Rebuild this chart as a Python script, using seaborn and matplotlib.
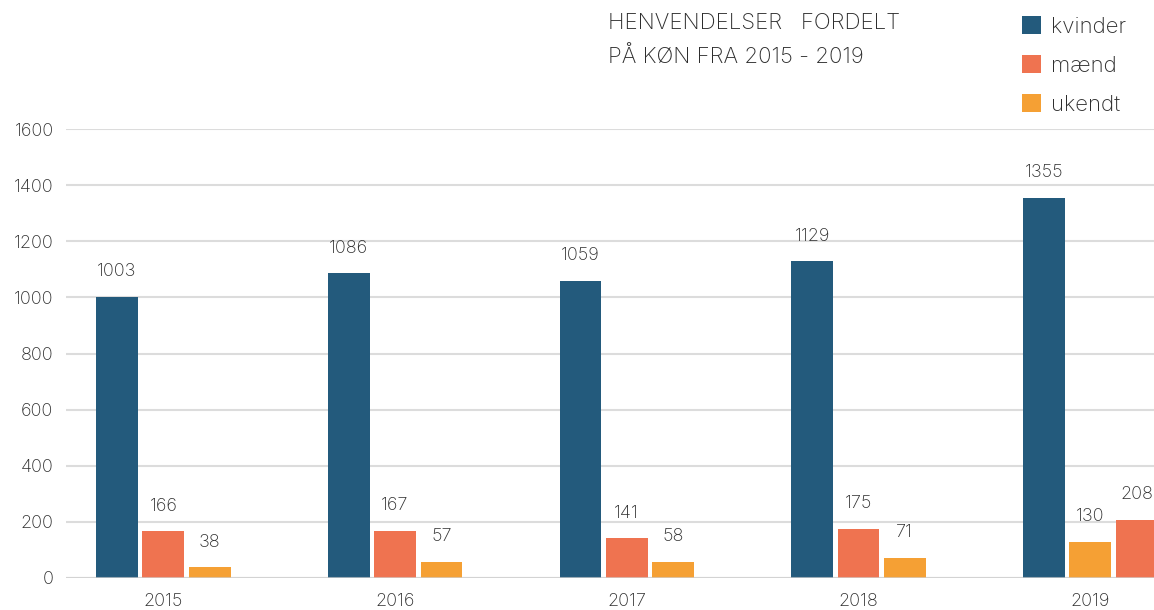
import pandas as pd
import numpy as np
import matplotlib.pyplot as plt
import seaborn as sns
from matplotlib.patches import Patch

years = ["2015", "2016", "2017", "2018", "2019"]
kvinder = [1003, 1086, 1059, 1129, 1355]
maend = [166, 167, 141, 175, 208]
ukendt = [38, 57, 58, 71, 130]

series_names = ["kvinder", "mænd", "ukendt"]
colors = {"kvinder": "#235a7c", "mænd": "#ef7350", "ukendt": "#f5a034"}
title = "HENVENDELSER   FORDELT\nPÅ KØN FRA 2015 - 2019"

# long table; in 2019 the last two bars swap places, as in the original
rows = []
values = {"kvinder": kvinder, "mænd": maend, "ukendt": ukendt}
for i, yr in enumerate(years):
    order = ["kvinder", "mænd", "ukendt"] if yr != "2019" else ["kvinder", "ukendt", "mænd"]
    for slot, name in enumerate(order):
        rows.append({"year": yr, "slot": slot, "series": name, "value": values[name][i]})
df = pd.DataFrame(rows)

sns.set_theme(style="white")
plt.rcParams["font.family"] = ["Inter", "DejaVu Sans"]
plt.rcParams["font.weight"] = "light"
text_col = "#2e2e2e"

fig = plt.figure(figsize=(11.54, 6.1), dpi=100)
ax = fig.add_axes([66 / 1154, 32 / 610, 1116.8 / 1154, 449 / 610])

sns.barplot(data=df, x="year", y="value", hue="slot", ax=ax, width=0.6, gap=0.1,
            palette=["#999999"] * 3, legend=False, saturation=1, zorder=2)

# recolour each bar by its series and label it
for slot, cont in enumerate(ax.containers):
    sub = df[df["slot"] == slot].set_index("year").loc[years]
    for bar, name in zip(cont, sub["series"]):
        bar.set_facecolor(colors[name])
        bar.set_edgecolor("none")
    ax.bar_label(cont, labels=[str(v) for v in sub["value"]], padding=12,
                 fontsize=13, color=text_col, clip_on=False)

ax.set_xlim(-0.42, 4.4)
ax.set_ylim(0, 1600)
ax.set_yticks(np.arange(0, 1601, 200))
ax.yaxis.grid(True, color="#dcdcdc", linewidth=1.5, zorder=0)
ax.set_axisbelow(True)
ax.axhline(0, color="#d0d0d0", linewidth=1.5, alpha=0.7, zorder=3)
for s in ax.spines.values():
    s.set_visible(False)
ax.set_xlabel("")
ax.set_ylabel("")
ax.tick_params(axis="x", length=0, pad=11, labelsize=13, labelcolor=text_col)
ax.tick_params(axis="y", length=0, pad=9, labelsize=13, labelcolor=text_col)

fig.text(608 / 1154, 1 - 13 / 610, title, ha="left", va="top", fontsize=16,
         color=text_col, linespacing=1.75)

handles = [Patch(facecolor=colors[n], edgecolor="none") for n in series_names]
fig.legend(handles, series_names, loc="upper left", bbox_to_anchor=(1022 / 1154, 1 - 16 / 610),
           frameon=False, fontsize=16, handlelength=0.85, handleheight=0.85,
           handletextpad=0.45, labelspacing=0.83, borderpad=0, borderaxespad=0,
           labelcolor=text_col)

fig.savefig("out.png", dpi=100)
